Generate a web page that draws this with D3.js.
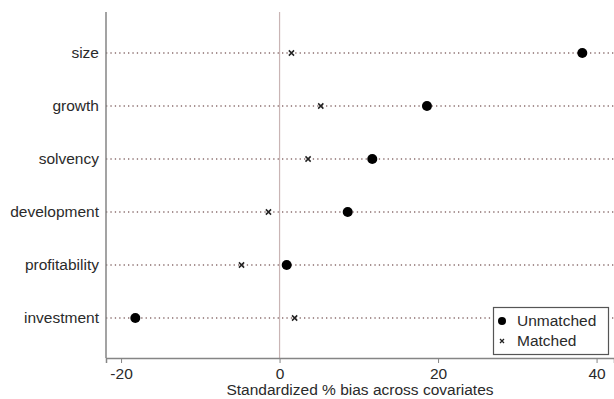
<!DOCTYPE html>
<html><head><meta charset="utf-8">
<script src="https://cdn.jsdelivr.net/npm/d3@7"></script>
<style>body{margin:0;background:#fff}svg{display:block}text{font-family:"Liberation Sans",Arial,sans-serif}</style>
</head><body>
<svg id="c" width="614" height="399"></svg>
<script>
const categories = ["size","growth","solvency","development","profitability","investment"];
const unmatched = [38.2, 18.6, 11.7, 8.6, 0.9, -18.2];
const matched = [1.5, 5.2, 3.6, -1.4, -4.8, 1.9];
const xTicks = [-20, 0, 20, 40];
const seriesNames = ["Unmatched", "Matched"];

const svg = d3.select("#c");
const L = 106, R = 614, T = 12, B = 358;
const FS = 15.5;
const x = d3.scaleLinear().domain([-21.9, 42.2]).range([L, R]);
const y = d3.scalePoint().domain(categories).range([53, 318]);

// dotted guide lines
svg.selectAll(".g").data(categories).enter().append("line")
  .attr("x1", L).attr("x2", R).attr("y1", d => y(d)).attr("y2", d => y(d))
  .attr("stroke", "#8a6e6e").attr("stroke-width", 1.3).attr("stroke-dasharray", "1.3,3.1");

// zero line
svg.append("line").attr("x1", x(0)).attr("x2", x(0)).attr("y1", T).attr("y2", B)
  .attr("stroke", "#c9b5b5").attr("stroke-width", 1.2);

// axes lines
svg.append("line").attr("x1", L).attr("x2", L).attr("y1", T).attr("y2", B)
  .attr("stroke", "#858585").attr("stroke-width", 1.5);
const xa = svg.append("g").attr("transform", `translate(0,${B})`)
  .call(d3.axisBottom(x).tickValues(xTicks).tickSize(5).tickPadding(5).tickFormat(d => String(d)));
xa.select(".domain").attr("stroke", "#858585").attr("stroke-width", 1.5);
xa.selectAll(".tick line").attr("stroke", "#858585");
xa.selectAll(".tick text").attr("font-size", FS).attr("fill", "#2a2a2a")
  .attr("font-family", "'Liberation Sans',Arial,sans-serif");

// y labels
svg.selectAll(".yl").data(categories).enter().append("text")
  .attr("x", 99).attr("y", d => y(d)).attr("dy", "0.35em").attr("text-anchor", "end")
  .attr("font-size", FS).attr("fill", "#2a2a2a").text(d => d);

// markers
svg.selectAll(".u").data(categories).enter().append("circle")
  .attr("cx", (d, i) => x(unmatched[i])).attr("cy", d => y(d)).attr("r", 5).attr("fill", "#000");
const xs = 2.6;
svg.selectAll(".m").data(categories).enter().append("path")
  .attr("d", (d, i) => { const cx = x(matched[i]), cy = y(d);
    return `M${cx-xs},${cy-xs}L${cx+xs},${cy+xs}M${cx-xs},${cy+xs}L${cx+xs},${cy-xs}`; })
  .attr("stroke", "#222").attr("stroke-width", 1.5);

// axis title
svg.append("text").attr("x", (L + R) / 2).attr("y", 395).attr("text-anchor", "middle")
  .attr("font-size", FS).attr("fill", "#2a2a2a").text("Standardized % bias across covariates");

// legend
const lg = svg.append("g");
lg.append("rect").attr("x", 493.5).attr("y", 307.5).attr("width", 115).attr("height", 47)
  .attr("fill", "#fff").attr("stroke", "#555").attr("stroke-width", 1.2);
lg.append("circle").attr("cx", 502).attr("cy", 321).attr("r", 4).attr("fill", "#000");
lg.append("path").attr("d", "M500,339L504,343M500,343L504,339").attr("stroke", "#222").attr("stroke-width", 1.3);
lg.selectAll(".lt").data(seriesNames).enter().append("text")
  .attr("x", 517).attr("y", (d, i) => 321 + i * 20).attr("dy", "0.35em")
  .attr("font-size", FS).attr("fill", "#2a2a2a").text(d => d);
</script>
</body></html>
